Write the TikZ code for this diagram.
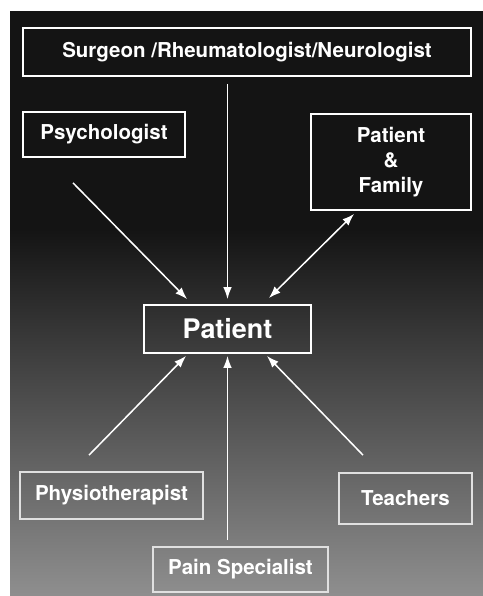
\documentclass[tikz,border=0pt]{standalone}
\usepackage{fontspec}
\setmainfont{TeX Gyre Heros}
\usetikzlibrary{arrows.meta}

\begin{document}
\begin{tikzpicture}[x=0.03cm, y=-0.03cm, >={Latex[length=3.6mm,width=2.6mm]},
    box/.style={draw=white, line width=1.5pt, text=white, align=center, inner sep=0pt,
                font=\bfseries\fontsize{17.5}{21.5}\selectfont},
    lowbox/.style={box, draw=black!12},
    link/.style={->, white, line width=1.3pt}]

  % --- slide background ---
  \fill[white] (0,0) rectangle (483,596);
  \fill[black!92] (10,11) rectangle (483,230);
  \shade[top color=black!92, bottom color=black!44] (10,230) rectangle (483,596);

  % --- upper row ---
  \node[box, minimum width=13.44cm, minimum height=1.44cm] (surg) at (247,52)
      {Surgeon /Rheumatologist/Neurologist};
  \node[box, minimum width=4.86cm, minimum height=1.35cm] (psy) at (104,134.5) {Psychologist};
  \node[box, minimum width=4.8cm, minimum height=2.88cm] (fam) at (391,162) {Patient\\\&\\Family};

  % --- centre ---
  \node[box, minimum width=5.01cm, minimum height=1.44cm,
        font=\bfseries\fontsize{23}{26}\selectfont] (pat) at (227.5,329) {Patient};

  % --- lower row ---
  \node[lowbox, minimum width=5.49cm, minimum height=1.41cm] (phy) at (111.5,495.5) {Physiotherapist};
  \node[lowbox, minimum width=3.99cm, minimum height=1.53cm] (tea) at (405.5,498.5) {Teachers};
  \node[lowbox, minimum width=5.25cm, minimum height=1.35cm] (pain) at (240.5,569.5) {Pain Specialist};

  % --- arrows into the patient ---
  \draw[link, shorten <=0.21cm, shorten >=0.15cm] (surg.south -| pat) -- (pat.north);
  \draw[link] ([xshift=-0.93cm,yshift=-0.75cm]psy.south) -- ([xshift=1.32cm,yshift=0.15cm]pat.north west);
  \draw[link, <->] ([xshift=1.32cm,yshift=-0.09cm]fam.south west) -- ([xshift=-1.29cm,yshift=0.18cm]pat.north east);
  \draw[link] ([xshift=-0.675cm,yshift=0.48cm]phy.north) -- ([xshift=1.29cm,yshift=-0.06cm]pat.south west);
  \draw[link, shorten <=0.18cm, shorten >=0.06cm] (pain.north -| pat) -- (pat.south);
  \draw[link] ([xshift=-1.275cm,yshift=0.51cm]tea.north) -- ([xshift=-1.35cm,yshift=-0.06cm]pat.south east);

\end{tikzpicture}
\end{document}
